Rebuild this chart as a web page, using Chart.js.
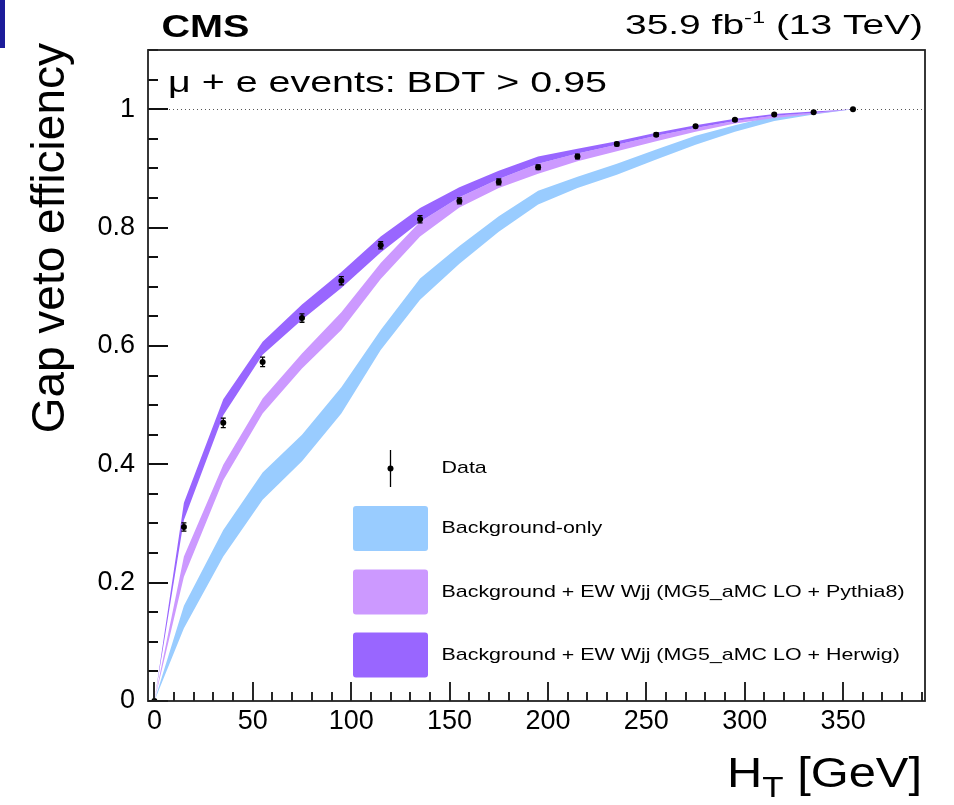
<!DOCTYPE html>
<html lang="en">
<head>
<meta charset="UTF-8">
<title>Gap veto efficiency vs HT</title>
<style>
    body { margin: 0; background: #fff; }
    #wrap { width: 954px; height: 805px; }
</style>
</head>
<body>
<div id="wrap"><canvas id="chart" width="954" height="805"></canvas></div>

<script src="https://cdn.jsdelivr.net/npm/chart.js@4"></script>
<script>
// HT thresholds (GeV) where the efficiency is evaluated
const htPoints = [0, 15, 35, 55, 75, 95, 115, 135, 155, 175, 195, 215, 235, 255, 275, 295, 315, 335, 355];

// data points and their errors
const dataEff = [0, 0.294, 0.470, 0.573, 0.647, 0.710, 0.770, 0.814, 0.845, 0.877, 0.902, 0.920, 0.941, 0.957, 0.971, 0.982, 0.991, 0.995, 1.0];
const dataErr = [0, 0.007, 0.008, 0.008, 0.007, 0.007, 0.006, 0.006, 0.005, 0.005, 0.004, 0.004, 0.003, 0.003, 0.002, 0.002, 0.002, 0.001, 0];

// uncertainty bands (low / high edge)
const bkgLow  = [0, 0.123, 0.244, 0.340, 0.405, 0.486, 0.593, 0.678, 0.739, 0.793, 0.839, 0.867, 0.889, 0.915, 0.940, 0.962, 0.980, 0.991, 1.0];
const bkgHigh = [0, 0.161, 0.289, 0.386, 0.450, 0.530, 0.627, 0.714, 0.769, 0.819, 0.862, 0.886, 0.908, 0.932, 0.955, 0.973, 0.989, 0.994, 1.0];
const pythiaLow  = [0, 0.210, 0.373, 0.486, 0.562, 0.627, 0.713, 0.785, 0.834, 0.867, 0.891, 0.912, 0.929, 0.946, 0.962, 0.976, 0.985, 0.992, 1.0];
const pythiaHigh = [0, 0.244, 0.399, 0.511, 0.587, 0.657, 0.740, 0.810, 0.851, 0.882, 0.908, 0.925, 0.940, 0.955, 0.968, 0.980, 0.989, 0.994, 1.0];
const herwigLow  = [0, 0.306, 0.483, 0.585, 0.644, 0.698, 0.758, 0.810, 0.851, 0.882, 0.908, 0.925, 0.940, 0.955, 0.968, 0.980, 0.989, 0.994, 1.0];
const herwigHigh = [0, 0.335, 0.510, 0.607, 0.670, 0.725, 0.785, 0.833, 0.868, 0.896, 0.920, 0.933, 0.946, 0.960, 0.973, 0.984, 0.992, 0.996, 1.0];

const legendLabels = [
    'Data',
    'Background-only',
    'Background + EW Wjj (MG5_aMC LO + Pythia8)',
    'Background + EW Wjj (MG5_aMC LO + Herwig)'
];

const FONT = '"Liberation Sans", Arial, Helvetica, sans-serif';
const colBkg = '#99ccff';
const colPythia = '#cc99ff';
const colHerwig = '#9966ff';

function pts(ys) {
    return htPoints.map((x, i) => ({ x: x, y: ys[i] }));
}

function band(label, lo, hi, color, order) {
    const common = { borderWidth: 0, pointRadius: 0, tension: 0, order: order, backgroundColor: color, borderColor: color };
    return [
        Object.assign({ label: label + ' low', data: pts(lo), fill: false }, common),
        Object.assign({ label: label, data: pts(hi), fill: '-1' }, common)
    ];
}

// draw a run of text pieces, optionally stretched horizontally to a width
function drawRuns(ctx, runs, x, y, opts) {
    let nat = 0;
    runs.forEach(r => { ctx.font = r.font; nat += ctx.measureText(r.text).width; });
    const sx = opts.width ? opts.width / nat : (opts.sx || 1);
    const start = opts.align === 'right' ? x - nat * sx : x;
    ctx.save();
    ctx.translate(start, y);
    ctx.scale(sx, 1);
    ctx.fillStyle = '#000';
    ctx.textAlign = 'left';
    ctx.textBaseline = opts.baseline || 'alphabetic';
    let cx = 0;
    runs.forEach(r => {
        ctx.font = r.font;
        ctx.fillText(r.text, cx, r.dy || 0);
        cx += ctx.measureText(r.text).width;
    });
    ctx.restore();
}

function roundBox(ctx, x, y, w, h, r, color) {
    ctx.beginPath();
    ctx.moveTo(x + r, y);
    ctx.arcTo(x + w, y, x + w, y + h, r);
    ctx.arcTo(x + w, y + h, x, y + h, r);
    ctx.arcTo(x, y + h, x, y, r);
    ctx.arcTo(x, y, x + w, y, r);
    ctx.closePath();
    ctx.fillStyle = color;
    ctx.fill();
}

const decorPlugin = {
    id: 'decor',
    beforeDatasetsDraw(chart) {
        const ctx = chart.ctx, a = chart.chartArea;
        const yScale = chart.scales.y;
        // dotted line at efficiency = 1
        const y1 = Math.round(yScale.getPixelForValue(1)) + 0.5;
        ctx.save();
        ctx.strokeStyle = '#555';
        ctx.lineWidth = 1;
        ctx.setLineDash([1, 3]);
        ctx.beginPath();
        ctx.moveTo(a.left + 21, y1);
        ctx.lineTo(a.right, y1);
        ctx.stroke();
        ctx.restore();
    },
    afterDatasetsDraw(chart) {
        const ctx = chart.ctx;
        const xs = chart.scales.x, ys = chart.scales.y;
        // error bars on the data points
        ctx.save();
        ctx.strokeStyle = '#000';
        ctx.lineWidth = 1.3;
        htPoints.forEach((h, i) => {
            if (!dataErr[i]) return;
            const px = xs.getPixelForValue(h);
            const lo = ys.getPixelForValue(dataEff[i] - dataErr[i]);
            const hi = ys.getPixelForValue(dataEff[i] + dataErr[i]);
            ctx.beginPath();
            ctx.moveTo(px, lo); ctx.lineTo(px, hi);
            ctx.moveTo(px - 2.5, lo); ctx.lineTo(px + 2.5, lo);
            ctx.moveTo(px - 2.5, hi); ctx.lineTo(px + 2.5, hi);
            ctx.stroke();
        });
        ctx.restore();
    },
    afterDraw(chart) {
        const ctx = chart.ctx, a = chart.chartArea;
        const xs = chart.scales.x, ys = chart.scales.y;

        // tick marks, ROOT style (inside the frame)
        ctx.save();
        ctx.strokeStyle = '#111';
        ctx.lineWidth = 1.8;
        ctx.beginPath();
        for (let v = 0; v <= 1.1001; v += 0.05) {
            const py = Math.round(ys.getPixelForValue(v));
            const major = Math.abs(v / 0.2 - Math.round(v / 0.2)) < 1e-6;
            ctx.moveTo(a.left, py);
            ctx.lineTo(a.left + (major ? 20 : 10), py);
        }
        for (let v = 0; v <= xs.max; v += 10) {
            const px = Math.round(xs.getPixelForValue(v));
            const major = v % 50 === 0;
            ctx.moveTo(px, a.bottom);
            ctx.lineTo(px, a.bottom - (major ? 19 : 9));
        }
        ctx.stroke();
        // frame
        ctx.strokeStyle = '#222';
        ctx.lineWidth = 1.8;
        ctx.strokeRect(a.left, a.top, a.right - a.left, a.bottom - a.top);
        ctx.restore();

        // header texts
        drawRuns(ctx, [{ text: 'CMS', font: 'bold 31px ' + FONT }], 161.5, 37, { width: 88 });
        drawRuns(ctx, [
            { text: '35.9 fb', font: '28px ' + FONT },
            { text: '-1', font: '17px ' + FONT, dy: -11 },
            { text: ' (13 TeV)', font: '28px ' + FONT }
        ], 923, 34, { align: 'right', width: 298 });
        drawRuns(ctx, [{ text: 'μ + e events: BDT > 0.95', font: '29px ' + FONT }], 168, 92, { width: 439 });

        // axis titles
        drawRuns(ctx, [
            { text: 'H', font: '42px ' + FONT },
            { text: 'T', font: '30px ' + FONT, dy: 10 },
            { text: ' [GeV]', font: '42px ' + FONT }
        ], 922, 787, { align: 'right', width: 195 });

        ctx.save();
        ctx.translate(64, 43);
        ctx.rotate(-Math.PI / 2);
        ctx.font = '46px ' + FONT;
        ctx.fillStyle = '#000';
        ctx.textAlign = 'right';
        ctx.textBaseline = 'alphabetic';
        ctx.fillText('Gap veto efficiency', 0, 0);
        ctx.restore();

        // legend
        const lx = 353, tx = 441.5, bw = 75, bh = 45;
        const rows = [468.5, 528.5, 592, 655];
        ctx.save();
        ctx.strokeStyle = '#000';
        ctx.lineWidth = 1.3;
        ctx.beginPath();
        ctx.moveTo(390.5, rows[0] - 18.5);
        ctx.lineTo(390.5, rows[0] + 18.5);
        ctx.stroke();
        ctx.beginPath();
        ctx.arc(390.5, rows[0], 3, 0, Math.PI * 2);
        ctx.fillStyle = '#000';
        ctx.fill();
        ctx.restore();
        [colBkg, colPythia, colHerwig].forEach((c, i) => {
            roundBox(ctx, lx, rows[i + 1] - bh / 2, bw, bh, 3, c);
        });
        legendLabels.forEach((t, i) => {
            drawRuns(ctx, [{ text: t, font: '17px ' + FONT }], tx, rows[i], { sx: 1.26, baseline: 'middle' });
        });

        // stray edge of the crop, top left
        ctx.fillStyle = '#1c1c9a';
        ctx.fillRect(0, 0, 5, 48);
    }
};

const datasets = [].concat(
    band('Background + EW Wjj (MG5_aMC LO + Herwig)', herwigLow, herwigHigh, colHerwig, 1),
    band('Background + EW Wjj (MG5_aMC LO + Pythia8)', pythiaLow, pythiaHigh, colPythia, 2),
    band('Background-only', bkgLow, bkgHigh, colBkg, 3),
    [{
        type: 'scatter',
        label: 'Data',
        data: pts(dataEff),
        pointRadius: 3,
        pointBackgroundColor: '#000',
        pointBorderWidth: 0,
        showLine: false,
        order: 0
    }]
);

new Chart(document.getElementById('chart'), {
    type: 'line',
    data: { datasets: datasets },
    options: {
        responsive: false,
        animation: false,
        devicePixelRatio: 1,
        layout: { padding: { top: 50, right: 29, left: 0, bottom: 0 } },
        plugins: {
            legend: { display: false },
            tooltip: { enabled: false }
        },
        scales: {
            x: {
                type: 'linear',
                min: -3.25,
                max: 391.6,
                grid: { display: false, drawTicks: false },
                border: { display: false },
                ticks: {
                    stepSize: 50,
                    includeBounds: false,
                    autoSkip: false,
                    maxRotation: 0,
                    padding: 4,
                    color: '#000',
                    font: { family: FONT, size: 27 }
                },
                afterFit: s => { s.height = 104; }
            },
            y: {
                min: 0,
                max: 1.1,
                grid: { display: false, drawTicks: false },
                border: { display: false },
                ticks: {
                    stepSize: 0.2,
                    includeBounds: false,
                    padding: 13,
                    color: '#000',
                    font: { family: FONT, size: 27 },
                    callback: v => (Math.abs(v - Math.round(v)) < 1e-9 ? String(Math.round(v)) : v.toFixed(1))
                },
                afterFit: s => { s.width = 148; }
            }
        }
    },
    plugins: [decorPlugin]
});
</script>
</body>
</html>
